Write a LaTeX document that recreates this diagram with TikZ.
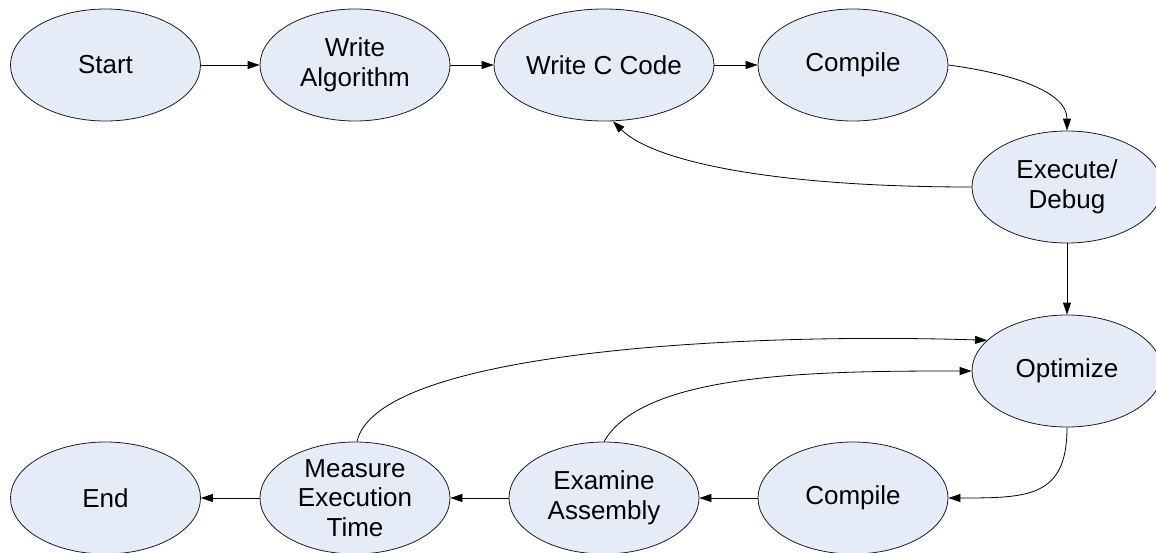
\documentclass[tikz,border=0pt]{standalone}
\usepackage{fontspec}
\setmainfont{Liberation Sans}
\usetikzlibrary{shapes.geometric,arrows.meta}
\definecolor{ellfill}{RGB}{230,236,247}
\definecolor{ellline}{RGB}{30,30,30}
\tikzset{
  ell/.style={ellipse, draw=ellline, fill=ellfill, line width=0.8pt,
    minimum width=190pt, minimum height=112pt, inner xsep=0pt, inner ysep=-4pt,
    align=center, font=\fontsize{26}{29.5}\selectfont},
  arr/.style={draw=black, line width=0.8pt, -{Triangle[length=12pt,width=8pt]}}
}
\begin{document}
\begin{tikzpicture}[x=1pt,y=1pt]
\useasboundingbox (0,0) rectangle (1156,-552);
\node[ell] (start) at (105.5,-65) {Start};
\node[ell] (wa) at (355,-65) {Write\\Algorithm};
\node[ell] (wc) at (604,-65) {Write C Code};
\node[ell] (c1) at (853,-65) {Compile};
\node[ell] (ex) at (1067,-187) {Execute/\\Debug};
\node[ell] (opt) at (1067,-371) {Optimize};
\node[ell] (c2) at (853,-498) {Compile};
\node[ell] (ea) at (604,-498) {Examine\\Assembly};
\node[ell] (me) at (355,-498) {Measure\\Execution\\Time};
\node[ell] (en) at (105.5,-498) {End};

\draw[arr] (start) -- (wa);
\draw[arr] (wa) -- (wc);
\draw[arr] (wc) -- (c1);
\draw[arr] (c1.east) .. controls +(60,-8) and +(0,40) .. (ex.north);
\draw[arr] (ex.west) .. controls +(-200,0) and +(40,-40) .. (wc.-81);
\draw[arr] (ex.south) -- (opt.north);
\draw[arr] (opt.south) .. controls +(0,-70) and +(80,0) .. (c2.east);
\draw[arr] (c2) -- (ea);
\draw[arr] (ea) -- (me);
\draw[arr] (me) -- (en);
\draw[arr] (ea.north) .. controls +(40,70) and +(-150,0) .. (opt.west);
\draw[arr] (me.88) .. controls +(20,90) and +(-250,8) .. (opt.159);
\end{tikzpicture}
\end{document}
